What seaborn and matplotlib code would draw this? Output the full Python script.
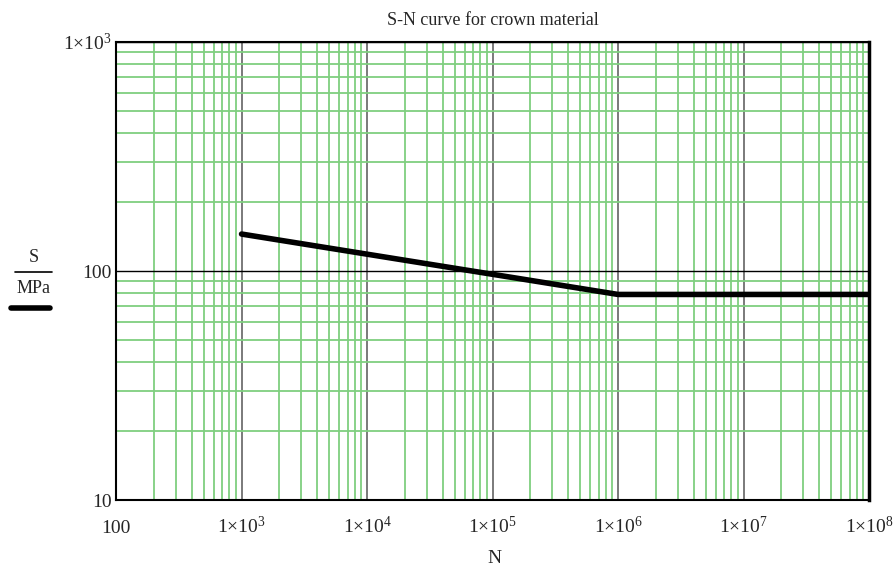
import numpy as np
import pandas as pd
import matplotlib
matplotlib.use('Agg')
import matplotlib.pyplot as plt
import seaborn as sns
from matplotlib.lines import Line2D
from matplotlib.ticker import FixedLocator, LogLocator, NullFormatter

# S-N curve points
cycles = [1e3, 1e6, 1e8]
stress = [145, 79, 79]

x_ticks = [1e2, 1e3, 1e4, 1e5, 1e6, 1e7, 1e8]
x_labels = ['100', r'$1{\times}10^{3}$', r'$1{\times}10^{4}$', r'$1{\times}10^{5}$',
            r'$1{\times}10^{6}$', r'$1{\times}10^{7}$', r'$1{\times}10^{8}$']
y_ticks = [10, 100, 1000]
y_labels = ['10', '100', r'$1{\times}10^{3}$']

sns.set_style('white')
plt.rcParams['font.family'] = ['Liberation Serif', 'DejaVu Serif']
plt.rcParams['mathtext.fontset'] = 'custom'
plt.rcParams['mathtext.rm'] = 'Liberation Serif'
plt.rcParams['mathtext.it'] = 'Liberation Serif'

df = pd.DataFrame({'N': cycles, 'S': stress})

fig = plt.figure(figsize=(8.96, 5.66), dpi=100)
ax = fig.add_axes([0.1295, 0.1166, 0.8405, 0.8092])

ax.set_xscale('log')
ax.set_yscale('log')
ax.set_xlim(1e2, 1e8)
ax.set_ylim(10, 1000)

ax.xaxis.set_major_locator(FixedLocator(x_ticks))
ax.yaxis.set_major_locator(FixedLocator(y_ticks))
ax.xaxis.set_minor_locator(LogLocator(base=10, subs=np.arange(2, 10)))
ax.yaxis.set_minor_locator(LogLocator(base=10, subs=np.arange(2, 10)))
ax.xaxis.set_minor_formatter(NullFormatter())
ax.yaxis.set_minor_formatter(NullFormatter())
ax.set_xticklabels(x_labels, fontsize=14)
ax.set_yticklabels(y_labels, fontsize=14)
for lbl in ax.get_xticklabels():
    lbl.set_va('baseline')

ax.grid(which='minor', color='#7fcf7f', linewidth=1.3)
ax.grid(which='major', axis='x', color='#707070', linewidth=1.3)
ax.grid(which='major', axis='y', color='black', linewidth=1.0)
ax.set_axisbelow(True)
ax.tick_params(axis='x', which='both', length=0, pad=24)
ax.tick_params(axis='y', which='both', length=0, pad=3)

sns.lineplot(data=df, x='N', y='S', color='black', linewidth=4, ax=ax, zorder=5)

for side in ['left', 'bottom', 'top', 'right']:
    ax.spines[side].set_visible(True)
    ax.spines[side].set_color('black')
    ax.spines[side].set_linewidth(1.5)
ax.spines['right'].set_linewidth(2.5)

ax.set_xlabel('')
ax.set_ylabel('')
ax.set_title('S-N curve for crown material', fontsize=13, pad=12)
fig.text(0.552, 0.014, 'N', ha='center', va='center', fontsize=14)

# y label as fraction with legend sample line
fig.text(0.0375, 0.545, 'S', ha='center', va='center', fontsize=13)
fig.add_artist(Line2D([0.017, 0.058], [0.520, 0.520], color='black', linewidth=1.2))
fig.text(0.0375, 0.490, 'MPa', ha='center', va='center', fontsize=13)
fig.add_artist(Line2D([0.012, 0.056], [0.455, 0.455], color='black', linewidth=4,
                      solid_capstyle='round'))

fig.savefig('out.png', dpi=100)
